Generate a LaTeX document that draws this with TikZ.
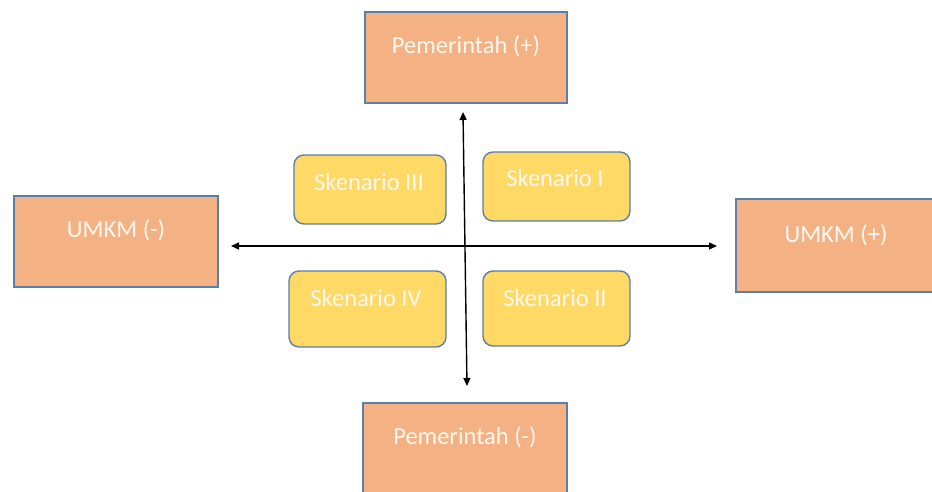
\documentclass[tikz,border=0pt]{standalone}
\usepackage{fontspec}
\setmainfont{Carlito}
\usetikzlibrary{arrows.meta}
\definecolor{orangefill}{HTML}{F4B183}
\definecolor{yellowfill}{HTML}{FFD966}
\definecolor{edgeblue}{HTML}{5B7FA8}
\definecolor{txt}{HTML}{FFF8F0}
\tikzset{
  bigbox/.style={draw=edgeblue, line width=1.4pt, fill=orangefill},
  scenbox/.style={draw=edgeblue, line width=1.4pt, fill=yellowfill, rounded corners=10pt},
  lbl/.style={text=txt, font=\fontsize{24.5}{26}\selectfont, inner sep=0pt},
  axis/.style={line width=1.4pt, black, {Triangle[length=8pt,width=7pt]}-{Triangle[length=8pt,width=7pt]}}
}
\begin{document}
\begin{tikzpicture}[x=1pt,y=-1pt]
\useasboundingbox (0,0) rectangle (932,492);
\clip (0,0) rectangle (932,492);
% outer boxes
\draw[bigbox] (365,12) rectangle (567,103);
\node[lbl] (ptop) at (466,46) {Pemerintah (+)};
\draw[bigbox] (14,196) rectangle (218,287);
\node[lbl] (uleft) at (116,230) {UMKM (-)};
\draw[bigbox] (736,199) rectangle (940,292);
\node[lbl] (uright) at (836,235) {UMKM (+)};
\draw[bigbox] (363,403) rectangle (567,500);
\node[lbl] (pbot) at (465,437) {Pemerintah (-)};
% scenarios
\draw[scenbox] (294,155) rectangle (446,224);
\node[lbl] (s3) at (369,182) {Skenario III};
\draw[scenbox] (483,152) rectangle (630,221);
\node[lbl] (s1) at (555,178) {Skenario I};
\draw[scenbox] (289,271) rectangle (446,347);
\node[lbl] (s4) at (366,298) {Skenario IV};
\draw[scenbox] (483,271) rectangle (630,346);
\node[lbl] (s2) at (555,298) {Skenario II};
% axes
\coordinate (hl) at (231,246);
\coordinate (hr) at (717,246);
\coordinate (vt) at (463,112);
\coordinate (vb) at (467,386);
\draw[axis] (hl) -- (hr);
\draw[axis] (vt) -- (vb);
\end{tikzpicture}
\end{document}
